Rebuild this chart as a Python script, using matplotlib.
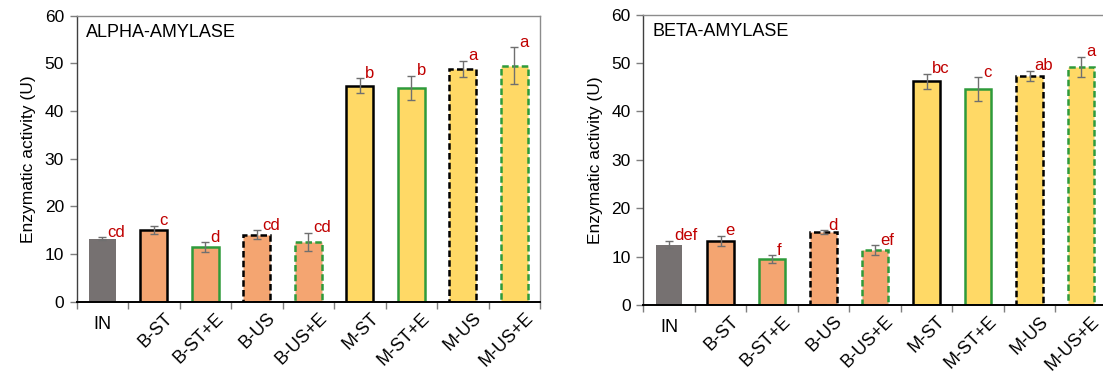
import numpy as np
import matplotlib
matplotlib.use("Agg")
import matplotlib.pyplot as plt

plt.rcParams['font.family'] = ['Liberation Sans', 'DejaVu Sans']

treatments = ["IN", "B-ST", "B-ST+E", "B-US", "B-US+E",
              "M-ST", "M-ST+E", "M-US", "M-US+E"]

alpha_mean = [13.2, 15.0, 11.5, 14.0, 12.6, 45.3, 44.9, 48.9, 49.5]
alpha_err = [0.3, 0.9, 1.0, 0.95, 1.9, 1.6, 2.5, 1.7, 3.85]
alpha_letters = ["cd", "c", "d", "cd", "cd", "b", "b", "a", "a"]

beta_mean = [12.5, 13.3, 9.5, 15.1, 11.3, 46.2, 44.6, 47.4, 49.2]
beta_err = [0.8, 1.05, 0.75, 0.35, 1.0, 1.55, 2.5, 1.05, 2.1]
beta_letters = ["def", "e", "f", "d", "ef", "bc", "c", "ab", "a"]

GREY = "#767171"
ORANGE = "#F4A571"
YELLOW = "#FFD966"
GREEN = "#2E9B3B"

fills = [GREY] + [ORANGE] * 4 + [YELLOW] * 4
edges = [None, "black", GREEN, "black", GREEN, "black", GREEN, "black", GREEN]
dashed = [False, False, False, True, True, False, False, True, True]

W, H = 1103, 383


def draw_panel(fig, ax, means, errs, letters, title):
    x = np.arange(len(treatments))
    for i in x:
        ls = (0, (2.6, 1.3)) if dashed[i] else "solid"
        if edges[i] is None:
            ax.bar(i, means[i], width=0.52, color=fills[i], edgecolor="none")
        else:
            ax.bar(i, means[i], width=0.52, color=fills[i],
                   edgecolor=edges[i], linewidth=1.8, linestyle=ls)
    ax.errorbar(x, means, yerr=errs, fmt="none", ecolor="#6f6f6f",
                elinewidth=1.0, capsize=3, capthick=1.0)
    for i in x:
        ax.text(i + 0.1, means[i] + errs[i] + 0.1, letters[i],
                color="#C00000", fontsize=12, ha="left", va="baseline")

    ax.set_xlim(-0.5, len(treatments) - 0.5)
    ax.set_ylim(0, 60)
    ax.set_yticks(range(0, 61, 10))
    ax.tick_params(axis="y", labelsize=12.5, length=5, width=1,
                   color="#7f7f7f", pad=4)
    ax.set_ylabel("Enzymatic activity (U)", fontsize=12.5, labelpad=6)

    # tick marks between the bars
    ax.set_xticks([])
    ax.set_xticks(np.arange(-0.5, len(treatments)), minor=True)
    ax.tick_params(axis="x", which="minor", length=5, width=1,
                   color="#7f7f7f", direction="out")

    for side in ["top", "right"]:
        ax.spines[side].set_color("#8c8c8c")
        ax.spines[side].set_linewidth(1.0)
    ax.spines["left"].set_color("#404040")
    ax.spines["left"].set_linewidth(1.0)
    ax.spines["bottom"].set_color("black")
    ax.spines["bottom"].set_linewidth(1.4)

    ax.text(0.02, 0.97, title, transform=ax.transAxes, fontsize=13,
            ha="left", va="top")

    # category labels as figure text under each bar
    to_fig = ax.transData + fig.transFigure.inverted()
    for i, name in enumerate(treatments):
        fx, fy = to_fig.transform((i, 0))
        if name == "IN":
            fig.text(fx, fy - 14 / H, name, fontsize=13,
                     ha="center", va="top")
        else:
            fig.text(fx + 10 / W, fy - 8 / H, name, fontsize=13,
                     ha="right", va="top", rotation=45,
                     rotation_mode="anchor")


fig = plt.figure(figsize=(11.03, 3.83), dpi=100)
ax1 = fig.add_axes([0.0694, 0.2123, 0.4202, 0.7467])
ax2 = fig.add_axes([0.5832, 0.2037, 0.4202, 0.7580])

draw_panel(fig, ax1, alpha_mean, alpha_err, alpha_letters, "ALPHA-AMYLASE")
draw_panel(fig, ax2, beta_mean, beta_err, beta_letters, "BETA-AMYLASE")

fig.savefig("out.png", dpi=100)
